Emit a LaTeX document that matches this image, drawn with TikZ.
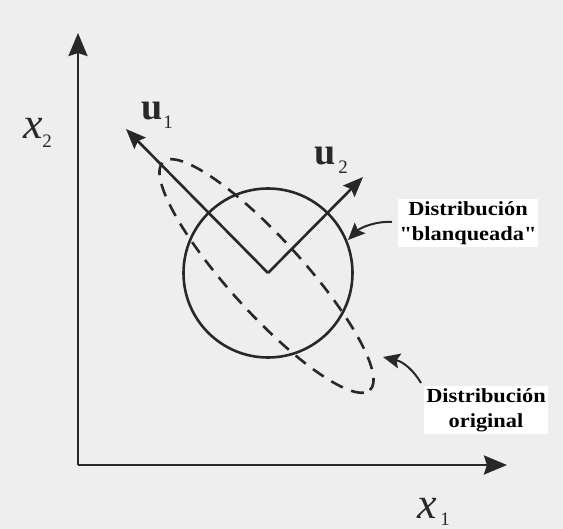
\documentclass[tikz,border=0pt]{standalone}
\usepackage{fontspec}
\setmainfont{Liberation Serif}
\usetikzlibrary{arrows.meta,shapes.geometric}
\definecolor{bgc}{RGB}{238,238,238}
\definecolor{ink}{RGB}{40,40,40}
\begin{document}
\begin{tikzpicture}[x=1pt,y=-1pt,
  axisline/.style={draw=ink, line width=2.6pt, -{Stealth[length=23pt,width=19pt,inset=3pt]}},
  vecline/.style={draw=ink, line width=2.6pt, -{Stealth[length=20pt,width=16pt,inset=3pt]}},
  callout/.style={draw=ink, line width=2pt, -{Stealth[length=17pt,width=15pt,inset=3pt]}},
  dashline/.style={draw=ink, line width=2.6pt, dash pattern=on 13pt off 9pt},
  xlab/.style={inner sep=0pt, text=ink, font=\fontsize{44}{44}\selectfont\itshape},
  ulab/.style={inner sep=0pt, text=ink, font=\fontsize{38}{38}\selectfont\bfseries},
  sublab/.style={inner sep=0pt, text=ink, font=\fontsize{19}{19}\selectfont},
  boxlab/.style={fill=white, inner sep=2pt, align=center, text=black,
    font=\fontsize{20}{25}\selectfont\bfseries}]
\useasboundingbox[fill=bgc] (0,0) rectangle (563,529);
% axes
\coordinate (O) at (78,465);
\coordinate (Xend) at (507,465);
\coordinate (Yend) at (78,33);
\draw[axisline] (O) -- (Xend);
\draw[axisline] (O) -- (Yend);
\node[xlab] (x2) at (33,128) {x};
\node[sublab] (x2s) at (47,141) {2};
\node[xlab] (x1) at (427,508) {x};
\node[sublab] (x1s) at (445,519) {1};
% whitened distribution
\coordinate (C) at (268,273);
\node[circle, draw=ink, line width=2.6pt, minimum size=169pt, inner sep=0pt] (circ) at (C) {};
% original distribution
\node[ellipse, dashline, rotate=-47.8, minimum width=308pt, minimum height=74pt, inner sep=0pt] (orig) at (266.5,276) {};
% eigenvectors
\coordinate (U1) at (126,129);
\coordinate (U2) at (363,177);
\draw[vecline] (C) -- (U1);
\draw[vecline] (C) -- (U2);
\node[ulab] (u1) at (152,111.5) {u};
\node[sublab] (u1s) at (168,122) {1};
\node[ulab] (u2) at (325,156) {u};
\node[sublab] (u2s) at (343,167) {2};
% labels
\node[boxlab] (lblA) at (468,223) {\scalebox{1.12}[1]{Distribución}\\\scalebox{1.12}[1]{\textquotedbl blanqueada\textquotedbl}};
\node[boxlab] (lblB) at (486,410) {\scalebox{1.12}[1]{Distribución}\\\scalebox{1.12}[1]{original}};
\coordinate (A0) at (392,222);
\coordinate (A1) at (348,240);
\draw[callout] (A0) .. controls (375,221) and (360,228) .. (A1);
\coordinate (B0) at (421,383);
\coordinate (B1) at (383,357);
\draw[callout] (B0) .. controls (414,371) and (404,362) .. (B1);
\end{tikzpicture}
\end{document}
